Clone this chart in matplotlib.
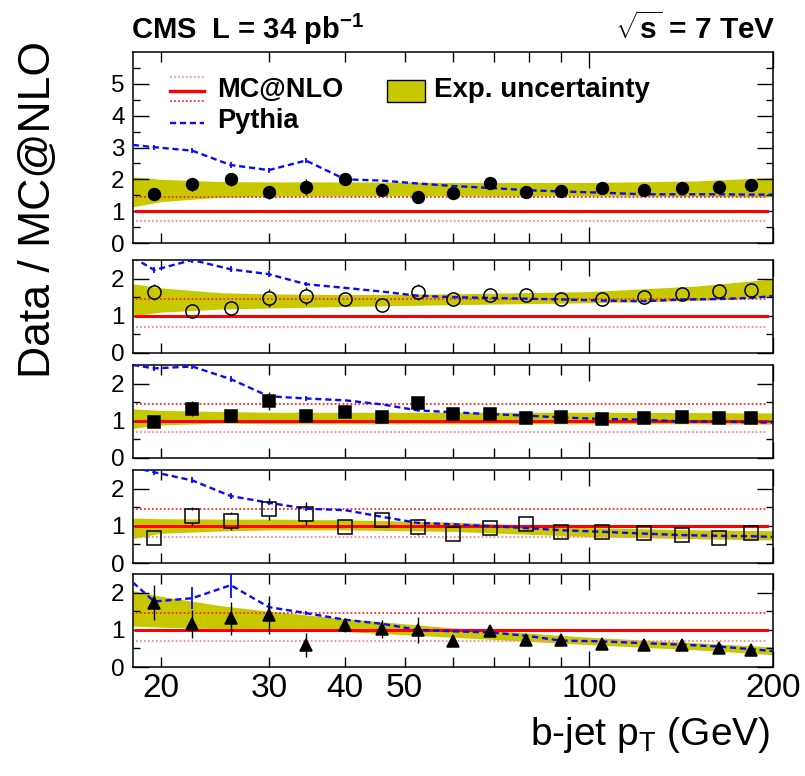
import numpy as np
import matplotlib
matplotlib.use("Agg")
import matplotlib.pyplot as plt
from matplotlib.lines import Line2D
from matplotlib.patches import Rectangle

plt.rcParams['font.family'] = ['Liberation Sans', 'DejaVu Sans']
plt.rcParams['mathtext.fontset'] = 'custom'
plt.rcParams['mathtext.rm'] = 'Liberation Sans'
plt.rcParams['mathtext.it'] = 'Liberation Sans:italic'
plt.rcParams['mathtext.bf'] = 'Liberation Sans:bold'

# ---------------- data ----------------
pt_centers = [19.5, 22.5, 26, 30, 34.5, 40, 46, 52.5, 60, 69, 79, 90, 105, 123, 142, 163, 184]
pythia_x = [18] + pt_centers + [200]

data1 = [1.54, 1.84, 2.00, 1.59, 1.77, 2.00, 1.66, 1.43, 1.56, 1.89, 1.60, 1.64, 1.72, 1.66, 1.74, 1.77, 1.81]
err1 = [0.15, 0.20, 0.20, 0.20, 0.25, 0.10, 0.10, 0.10, 0.10, 0.10, 0.05, 0.05, 0.05, 0.05, 0.05, 0.05, 0.05]
pyth1 = [3.08, 3.01, 2.90, 2.45, 2.29, 2.59, 2.00, 1.96, 1.87, 1.79, 1.73, 1.66, 1.62, 1.58, 1.53, 1.53, 1.53, 1.52, 1.52]

data2 = [1.64, 1.14, 1.21, 1.48, 1.53, 1.46, 1.30, 1.64, 1.44, 1.55, 1.55, 1.44, 1.44, 1.50, 1.59, 1.68, 1.70]
err2 = [0.22, 0.08, 0.10, 0.25, 0.25, 0.10, 0.12, 0.22, 0.08, 0.08, 0.08, 0.05, 0.05, 0.05, 0.05, 0.05, 0.05]
pyth2 = [2.57, 2.23, 2.50, 2.25, 2.12, 1.85, 1.75, 1.65, 1.54, 1.50, 1.48, 1.46, 1.44, 1.41, 1.39, 1.44, 1.45, 1.48, 1.53]

data3 = [0.98, 1.33, 1.14, 1.53, 1.14, 1.24, 1.09, 1.48, 1.18, 1.18, 1.07, 1.09, 1.05, 1.07, 1.10, 1.07, 1.07]
err3 = [0.15, 0.20, 0.15, 0.25, 0.15, 0.10, 0.10, 0.12, 0.08, 0.08, 0.05, 0.05, 0.05, 0.05, 0.05, 0.05, 0.05]
pyth3 = [2.50, 2.41, 2.46, 2.12, 1.66, 1.60, 1.55, 1.44, 1.28, 1.23, 1.18, 1.14, 1.09, 1.05, 1.03, 0.98, 0.98, 0.96, 0.95]

data4 = [0.67, 1.26, 1.13, 1.45, 1.33, 0.97, 1.15, 0.97, 0.79, 0.95, 1.04, 0.84, 0.84, 0.81, 0.75, 0.67, 0.81]
err4 = [0.18, 0.25, 0.25, 0.30, 0.30, 0.10, 0.15, 0.22, 0.08, 0.08, 0.08, 0.05, 0.05, 0.05, 0.05, 0.05, 0.05]
pyth4 = [2.57, 2.44, 2.22, 1.80, 1.62, 1.46, 1.42, 1.24, 1.08, 1.04, 0.99, 0.94, 0.88, 0.84, 0.79, 0.75, 0.73, 0.72, 0.70]

data5 = [1.73, 1.15, 1.31, 1.40, 0.59, 1.13, 1.02, 1.00, 0.69, 0.97, 0.73, 0.73, 0.63, 0.58, 0.58, 0.52, 0.46]
err5 = [0.47, 0.38, 0.45, 0.50, 0.33, 0.20, 0.25, 0.35, 0.10, 0.12, 0.10, 0.08, 0.08, 0.06, 0.06, 0.06, 0.06]
pyth5 = [2.27, 1.76, 1.85, 2.20, 1.61, 1.45, 1.27, 1.16, 1.00, 0.96, 0.93, 0.84, 0.71, 0.69, 0.64, 0.60, 0.55, 0.48, 0.43]

pyth_err1 = [0.08, 0.08, 0.08, 0.08, 0.08] + [0.0] * 12
pyth_err2 = [0.08, 0.08, 0.08, 0.08, 0.06] + [0.0] * 12
pyth_err3 = [0.08, 0.08, 0.08, 0.06, 0.06] + [0.0] * 12
pyth_err4 = [0.08, 0.08, 0.08, 0.06, 0.06] + [0.0] * 12
pyth_err5 = [0.05, 0.30, 0.35, 0.10, 0.06] + [0.0] * 12

band_x = [18, 20, 25, 30, 40, 60, 100, 150, 200]
band1_lo = [1.14, 1.30, 1.44, 1.47, 1.48, 1.48, 1.48, 1.47, 1.45]
band1_hi = [2.08, 2.00, 1.93, 1.92, 1.92, 1.90, 1.90, 1.95, 2.06]
band2_lo = [1.00, 1.10, 1.18, 1.21, 1.25, 1.30, 1.35, 1.41, 1.51]
band2_hi = [1.86, 1.75, 1.62, 1.59, 1.57, 1.59, 1.65, 1.80, 1.99]
band3_lo = [0.80, 0.89, 0.94, 0.92, 0.92, 0.92, 0.92, 0.92, 0.91]
band3_hi = [1.32, 1.28, 1.25, 1.23, 1.23, 1.23, 1.23, 1.22, 1.21]
band4_lo = [0.66, 0.80, 0.86, 0.89, 0.89, 0.85, 0.71, 0.65, 0.62]
band4_hi = [1.21, 1.19, 1.18, 1.18, 1.16, 1.10, 0.95, 0.89, 0.87]
band5_lo = [1.10, 1.07, 1.03, 1.00, 0.95, 0.80, 0.60, 0.46, 0.33]
band5_hi = [2.05, 1.90, 1.65, 1.50, 1.30, 1.05, 0.80, 0.65, 0.54]

mcnlo_central = 1.0
mcnlo_up = 1.45
mcnlo_down = 0.70

x_major = [100, 200]
x_major_labels = ['100', '200']
x_minor = [20, 30, 40, 50, 60, 70, 80, 90]
x_minor_labels = ['20', '30', '40', '50', '', '', '', '']

panels = [
    dict(data=data1, err=err1, pyth=pyth1, perr=pyth_err1, lo=band1_lo, hi=band1_hi,
         marker='o', fill=True, ylim=(0, 6.0), yticks=[0, 1, 2, 3, 4, 5]),
    dict(data=data2, err=err2, pyth=pyth2, perr=pyth_err2, lo=band2_lo, hi=band2_hi,
         marker='o', fill=False, ylim=(0, 2.5), yticks=[0, 1, 2]),
    dict(data=data3, err=err3, pyth=pyth3, perr=pyth_err3, lo=band3_lo, hi=band3_hi,
         marker='s', fill=True, ylim=(0, 2.5), yticks=[0, 1, 2]),
    dict(data=data4, err=err4, pyth=pyth4, perr=pyth_err4, lo=band4_lo, hi=band4_hi,
         marker='s', fill=False, ylim=(0, 2.5), yticks=[0, 1, 2]),
    dict(data=data5, err=err5, pyth=pyth5, perr=pyth_err5, lo=band5_lo, hi=band5_hi,
         marker='^', fill=True, ylim=(0, 2.5), yticks=[0, 1, 2]),
]

# ---------------- layout ----------------
W, H = 805, 776
fig = plt.figure(figsize=(W / 100, H / 100), dpi=100)

def fx(px):
    return px / W

def fy(py):
    return 1 - py / H

panel_px = [(52, 243), (260, 353), (365, 458), (470, 563), (574, 667)]
left_px, right_px = 133, 773

BAND = '#c8c800'
BLUE = '#0a0aff'
RED = '#ff0000'

axes = []
for i, (p, (top, bot)) in enumerate(zip(panels, panel_px)):
    ax = fig.add_axes([fx(left_px), fy(bot), fx(right_px - left_px), (bot - top) / H])
    axes.append(ax)
    ax.set_xscale('log')
    ax.set_xlim(18, 200)
    ax.set_ylim(*p['ylim'])

    ax.fill_between(band_x, p['lo'], p['hi'], color=BAND, lw=0, zorder=1)

    ax.axhline(mcnlo_up, xmin=0.005, xmax=0.99, color='#ff2a2a', lw=1.3, ls=(0, (1, 1.2)), zorder=2)
    ax.axhline(mcnlo_down, xmin=0.005, xmax=0.99, color='#ff8888', lw=1.3, ls=(0, (1, 1.2)), zorder=2)
    ax.axhline(mcnlo_central, xmin=0.005, xmax=0.99, color=RED, lw=2.2, zorder=3)

    ax.plot(pythia_x, p['pyth'], color=BLUE, lw=1.7, ls=(0, (2.6, 1.6)), zorder=4)
    ax.errorbar(pt_centers, p['pyth'][1:-1], yerr=p['perr'], fmt='none', ecolor=BLUE,
                elinewidth=1.3, capsize=0, zorder=4)

    if p['marker'] == '^':
        msize = 9
    elif p['fill']:
        msize = 8.5
    else:
        msize = 9.5

    if p['fill']:
        ax.errorbar(pt_centers, p['data'], yerr=p['err'], fmt='none', ecolor='black',
                    elinewidth=1.0, capsize=0, zorder=5)
    else:
        # error bar drawn only outside the open marker, as ROOT does
        px_per_unit = (bot - top) / (p['ylim'][1] - p['ylim'][0])
        r = (msize * 100 / 72.0) / 2.0 / px_per_unit
        for xc, yc, e in zip(pt_centers, p['data'], p['err']):
            if e > r:
                ax.vlines(xc, yc + r, yc + e, color='black', lw=1.0, zorder=5)
                ax.vlines(xc, yc - e, yc - r, color='black', lw=1.0, zorder=5)

    ax.plot(pt_centers, p['data'], ls='none', marker=p['marker'], ms=msize,
            mfc='black' if p['fill'] else 'none', mec='black', mew=1.1, zorder=6)

    ax.set_yticks(p['yticks'])
    ax.set_yticks([v + 0.5 for v in range(int(p['ylim'][1]))], minor=True)
    ax.set_xticks(x_major)
    ax.set_xticks(x_minor, minor=True)
    if i == len(panels) - 1:
        ax.set_xticklabels(x_major_labels)
        ax.set_xticklabels(x_minor_labels, minor=True)
    else:
        ax.set_xticklabels(['' for _ in x_major])
        ax.set_xticklabels(['' for _ in x_minor], minor=True)

    ax.tick_params(axis='both', which='both', direction='in', top=True, right=True, width=1.0)
    ax.tick_params(axis='y', which='major', length=11.5, labelsize=17.5, pad=6)
    ax.tick_params(axis='y', which='minor', length=5)
    ax.tick_params(axis='x', which='major', length=11.5, labelsize=24, pad=4)
    ax.tick_params(axis='x', which='minor', length=7, labelsize=24, pad=4)
    for s in ax.spines.values():
        s.set_linewidth(1.1)

# ---------------- legend (panel 1) ----------------
def hline(x0, x1, y, **kw):
    fig.add_artist(Line2D([fx(x0), fx(x1)], [fy(y), fy(y)], transform=fig.transFigure, **kw))

hline(170, 204, 77, color='#ff9090', lw=1.3, ls=(0, (1, 1.2)))
hline(170, 204, 91, color=RED, lw=2.4)
hline(170, 204, 101, color='#ff2a2a', lw=1.3, ls=(0, (1, 1.2)))
hline(170, 204, 123, color=BLUE, lw=1.7, ls=(0, (2.6, 1.6)))
fig.text(fx(217), fy(97), 'MC@NLO', fontsize=19.5, fontweight='bold', ha='left', va='baseline')
fig.text(fx(217), fy(128), 'Pythia', fontsize=19.5, fontweight='bold', ha='left', va='baseline')
fig.add_artist(Rectangle((fx(387), fy(102)), fx(425) - fx(387), fy(80) - fy(102),
                         transform=fig.transFigure, facecolor=BAND, edgecolor='black', lw=1.0))
fig.text(fx(434), fy(97), 'Exp. uncertainty', fontsize=20, fontweight='bold', ha='left', va='baseline')

# ---------------- header and labels ----------------
fig.text(fx(131), fy(39), r'CMS  L = 34 pb$^{\mathbf{-1}}$', fontsize=21, fontweight='bold',
         ha='left', va='baseline')
fig.text(fx(776), fy(39), r'$\sqrt{\mathbf{s}}$ = 7 TeV', fontsize=21.5, fontweight='bold',
         ha='right', va='baseline')
fig.text(fx(38), fy(210), 'Data / MC@NLO', fontsize=32, rotation=90, ha='center', va='center')
fig.text(fx(770), fy(745), r'b-jet p$_\mathrm{T}$ (GeV)', fontsize=28, ha='right', va='baseline')

fig.savefig('out.png', dpi=100)
